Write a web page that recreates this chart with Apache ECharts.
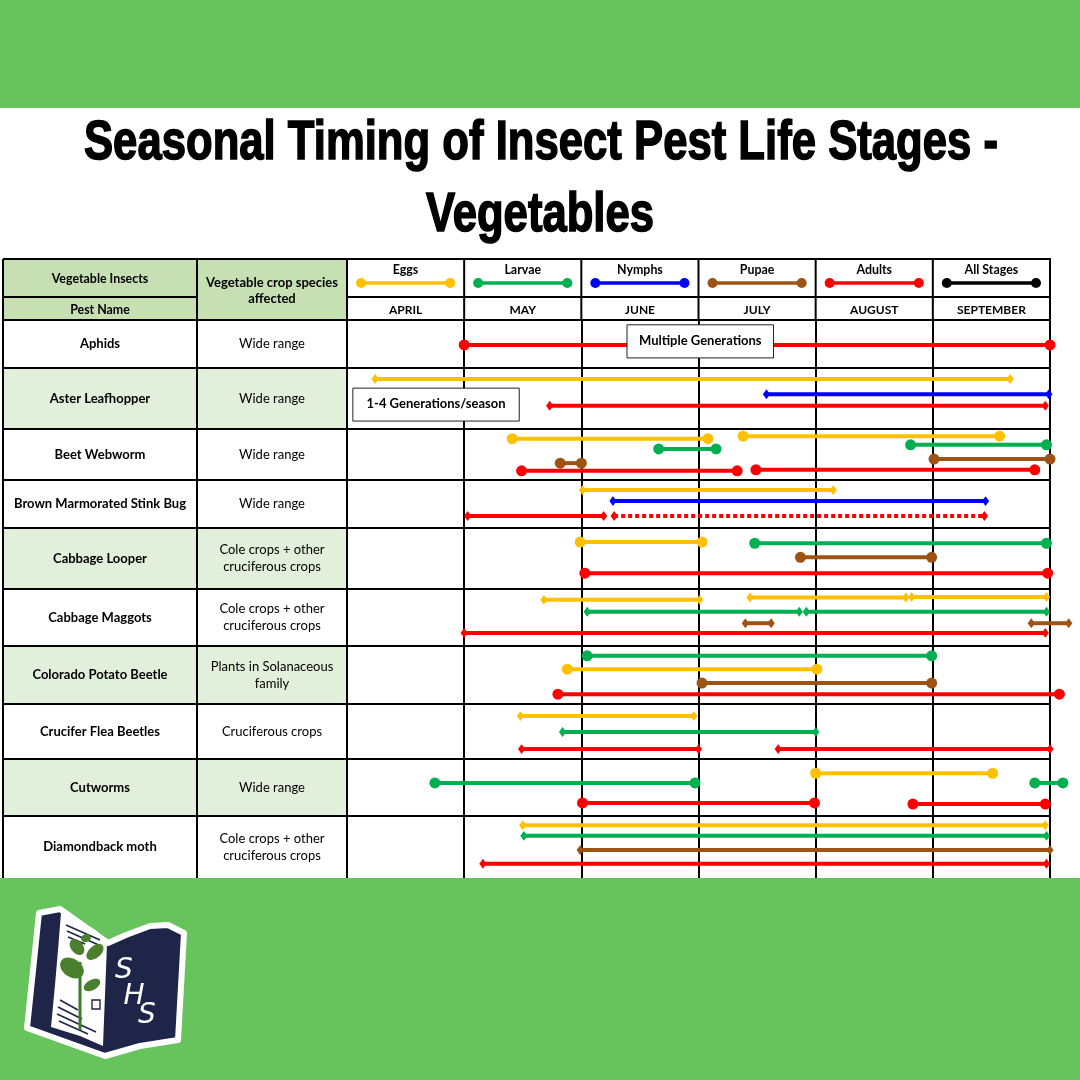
<!DOCTYPE html>
<html><head><meta charset="utf-8">
<script src="https://cdn.jsdelivr.net/npm/echarts@6/dist/echarts.min.js"></script>
<style>html,body{margin:0;padding:0;background:#fff}#c{width:1080px;height:1080px}</style>
</head><body><div id="c"></div>
<script>
// ---------------- DATA ----------------
const months = ['APRIL','MAY','JUNE','JULY','AUGUST','SEPTEMBER'];
const stages = ['Eggs','Larvae','Nymphs','Pupae','Adults','All Stages'];
const stageColors = ['#FFC000','#00B050','#0000FF','#9C5314','#FF0000','#000000'];
const pests = ['Aphids','Aster Leafhopper','Beet Webworm','Brown Marmorated Stink Bug','Cabbage Looper','Cabbage Maggots','Colorado Potato Beetle','Crucifer Flea Beetles','Cutworms','Diamondback moth'];
const hosts = ['Wide range','Wide range','Wide range','Wide range','Cole crops + other\ncruciferous crops','Cole crops + other\ncruciferous crops','Plants in Solanaceous\nfamily','Cruciferous crops','Wide range','Cole crops + other\ncruciferous crops'];
const endMarks = ['circle','diamond','circle','diamond','circle','diamond','circle','diamond','circle','diamond'];
const rowShaded = [false,true,false,false,true,false,true,false,true,false];

// segments: [stage, start (months after 1 April), end, lane (0 = top of row, 1 = bottom), style]
const aphids = [['Adults',1.00,6.00,0.52]];
const asterLeafhopper = [['Eggs',0.24,5.66,0.18],['Nymphs',3.58,5.99,0.43],['Adults',1.73,5.96,0.62]];
const beetWebworm = [['Eggs',1.41,3.08,0.19],['Eggs',3.38,5.57,0.14],['Larvae',2.66,3.15,0.39],['Larvae',4.81,5.97,0.31],['Pupae',1.82,2.00,0.67],['Pupae',5.01,6.00,0.59],['Adults',1.49,3.33,0.82],['Adults',3.49,5.87,0.80]];
const stinkBug = [['Eggs',2.01,4.15,0.21],['Nymphs',2.27,5.45,0.44],['Adults',1.03,2.19,0.75],['Adults',2.28,5.44,0.75,'dotted']];
const cabbageLooper = [['Eggs',1.99,3.03,0.23],['Larvae',3.48,5.97,0.25],['Pupae',3.87,4.99,0.48],['Adults',2.03,5.98,0.74]];
const cabbageMaggots = [['Eggs',1.68,3.01,0.19],['Eggs',3.44,4.77,0.15],['Eggs',4.82,5.97,0.14],['Larvae',2.05,3.86,0.40],['Larvae',3.92,5.97,0.40],['Pupae',3.40,3.62,0.60],['Pupae',5.84,6.16,0.60],['Adults',1.00,5.96,0.77]];
const coloradoPotatoBeetle = [['Larvae',2.05,4.99,0.17],['Eggs',1.88,4.01,0.40],['Pupae',3.03,4.99,0.64],['Adults',1.80,6.08,0.83]];
const cruciferFleaBeetles = [['Eggs',1.48,2.96,0.22],['Larvae',1.84,4.00,0.51],['Adults',1.49,3.00,0.82],['Adults',3.68,6.00,0.82]];
const cutworms = [['Eggs',4.00,5.51,0.25],['Larvae',0.75,2.97,0.42],['Larvae',5.87,6.11,0.42],['Adults',2.01,3.99,0.77],['Adults',4.83,5.96,0.79]];
const diamondbackMoth = [['Eggs',1.50,5.96,0.15],['Larvae',1.51,5.97,0.32],['Pupae',1.99,6.00,0.55],['Adults',1.16,5.97,0.77]];
const pestSegments = [aphids,asterLeafhopper,beetWebworm,stinkBug,cabbageLooper,cabbageMaggots,coloradoPotatoBeetle,cruciferFleaBeetles,cutworms,diamondbackMoth];

// notes: [pest, text, start, end, lane top, lane bottom]
const notes = [['Aphids','Multiple Generations',2.39,3.64,0.10,0.79],['Aster Leafhopper','1-4 Generations/season',0.05,1.47,0.33,0.87]];

// ---------------- LAYOUT ----------------
const rowHeights = [48,61,51,48,61,57,58,55,57,62];
const rowTops = []; let acc = 0; rowHeights.forEach(h => { rowTops.push(acc); acc += h; });
const totalH = acc;
const G = {left:347, top:320, width:703};
const monthW = G.width / months.length;
const tableLeft = 3, col1 = 197, headTop = 259, headMid = 297;
const F = 'Lato';
const GREEN = '#67C35C', HEAD = '#C6E0B4', SHADE = '#E2EFDA', NAVY = '#1F2449';

const segData = [];
pestSegments.forEach((segs, r) => segs.forEach(s => {
  segData.push([s[1], s[2], rowTops[r] + s[3]*rowHeights[r], stages.indexOf(s[0]), endMarks[r]==='diamond'?1:0, s[4]==='dotted'?1:0]);
}));
const noteData = notes.map((n, i) => {
  const r = pests.indexOf(n[0]);
  return [n[2], n[3], rowTops[r] + n[4]*rowHeights[r], rowTops[r] + n[5]*rowHeights[r], i];
});

function marker(kind, p, color, size) {
  if (kind === 1) {
    const w = size*0.8, h = size*1.1;
    return {type:'polygon', shape:{points:[[p[0],p[1]-h/2],[p[0]+w/2,p[1]],[p[0],p[1]+h/2],[p[0]-w/2,p[1]]]}, style:{fill:color}};
  }
  return {type:'circle', shape:{cx:p[0], cy:p[1], r:size/2}, style:{fill:color}};
}

// ---------------- GRAPHIC (table frame, labels, title, logo) ----------------
const gfx = [];
gfx.push({type:'rect', shape:{x:0,y:0,width:1080,height:108}, style:{fill:GREEN}, z:0});
gfx.push({type:'rect', shape:{x:0,y:878,width:1080,height:202}, style:{fill:GREEN}, z:20});
gfx.push({type:'rect', shape:{x:tableLeft,y:headTop,width:G.left-tableLeft,height:G.top-headTop}, style:{fill:HEAD}, z:0});
pests.forEach((p, r) => {
  if (rowShaded[r]) gfx.push({type:'rect', shape:{x:tableLeft,y:G.top+rowTops[r],width:G.left-tableLeft,height:rowHeights[r]}, style:{fill:SHADE}, z:0});
});
const LS = {stroke:'#000', lineWidth:2};
function hline(x1,x2,y){ gfx.push({type:'line', shape:{x1,y1:y,x2,y2:y}, style:LS, z:1}); }
function vline(x,y1,y2){ gfx.push({type:'line', shape:{x1:x,y1,x2:x,y2}, style:LS, z:1}); }
hline(tableLeft, G.left+G.width+1, headTop);
hline(tableLeft, col1, headMid); hline(G.left, G.left+G.width, headMid);
hline(tableLeft, G.left+G.width+1, G.top);
rowTops.forEach((t, r) => { if (r>0) hline(tableLeft, G.left+G.width+1, G.top+t); });
vline(tableLeft, headTop, 878); vline(col1, headTop, 878); vline(G.left, headTop, 878);
for (let i=1;i<=months.length;i++) vline(G.left+i*monthW, headTop, G.top);

const txt = (x,y,text,size,weight,extra) => gfx.push(Object.assign({type:'text', x, y, style:{text, fontFamily:F, fontSize:size, fontWeight:weight, fill:'#000', align:'center', verticalAlign:'middle', lineHeight:17}, z:2}, extra||{}));
txt((tableLeft+col1)/2, 279, 'Vegetable Insects', 12.4, 'bold');
txt((tableLeft+col1)/2, 310, 'Pest Name', 12.4, 'bold');
gfx.push({type:'text', x:(col1+G.left)/2, y:291, style:{text:'Vegetable crop species\naffected', fontFamily:F, fontSize:13, fontWeight:'bold', fill:'#000', align:'center', verticalAlign:'middle', lineHeight:16}, z:2});
stages.forEach((s, i) => {
  const x0 = G.left + i*monthW;
  txt(x0 + monthW/2, 269.5, s, 12.4, 'bold');
  const a = x0 + 14, b = x0 + monthW - 14, y = 283;
  gfx.push({type:'line', shape:{x1:a,y1:y,x2:b,y2:y}, style:{stroke:stageColors[i], lineWidth:3.5}, z:2});
  gfx.push({type:'circle', shape:{cx:a,cy:y,r:5}, style:{fill:stageColors[i]}, z:2});
  gfx.push({type:'circle', shape:{cx:b,cy:y,r:5}, style:{fill:stageColors[i]}, z:2});
});
pests.forEach((p, r) => {
  const cy = G.top + rowTops[r] + rowHeights[r]/2;
  txt((tableLeft+col1)/2, cy, p, 13, 'bold');
  txt((col1+G.left)/2, cy, hosts[r], 13, 'normal');
});

// title
function measure(text, font){ const c = document.createElement('canvas').getContext('2d'); c.font = font; return c.measureText(text).width; }
const TF = 'Liberation Sans', TS = 56;
const t1 = 'Seasonal Timing of Insect Pest Life Stages -', t2 = 'Vegetables';
const w1 = measure(t1, 'bold '+TS+'px "'+TF+'"'), w2 = measure(t2, 'bold '+TS+'px "'+TF+'"');
gfx.push({type:'text', x:541, y:144, scaleX:914/w1, style:{text:t1, fontFamily:TF, fontSize:TS, fontWeight:'bold', fill:'#000', stroke:'#000', lineWidth:1.6, align:'center', verticalAlign:'middle'}, z:3});
gfx.push({type:'text', x:540, y:216, scaleX:228/w2, style:{text:t2, fontFamily:TF, fontSize:TS, fontWeight:'bold', fill:'#000', stroke:'#000', lineWidth:1.6, align:'center', verticalAlign:'middle'}, z:3});

// logo (open book)
gfx.push({type:'polygon', shape:{points:[[39,913],[60,909],[108,943],[126,935],[150,926],[168,925],[184,933],[178,1040],[140,1046],[105,1056],[27,1028]]}, style:{fill:NAVY, stroke:'#fff', lineWidth:6, lineJoin:'round'}, z:21});
gfx.push({type:'polygon', shape:{points:[[61,913],[80,921],[97,931],[107,944],[103,1046],[80,1036],[51,1027],[55,985],[58,950]]}, style:{fill:'#fff'}, z:22});
[[66,925,100,940],[67,931,101,946],[68,937,85,944],[60,1000,78,1010],[58,1007,82,1019],[57,1014,96,1032],[59,1021,88,1034]].forEach(l => {
  gfx.push({type:'line', shape:{x1:l[0],y1:l[1],x2:l[2],y2:l[3]}, style:{stroke:NAVY, lineWidth:1.6}, z:23});
});
gfx.push({type:'line', shape:{x1:80,y1:1030,x2:80,y2:962}, style:{stroke:'#3E7A2B', lineWidth:3}, z:23});
[[72,968,13,9,-0.6],[77,947,9,6,-0.9],[95,952,10,6,0.7],[92,985,9,5,0.5],[86,938,5,4,0.3]].forEach(e => {
  gfx.push({type:'ellipse', x:e[0], y:e[1], rotation:e[4], shape:{cx:0,cy:0,rx:e[2],ry:e[3]}, style:{fill:'#4A7F2E'}, z:24});
});
gfx.push({type:'rect', shape:{x:92,y:1000,width:8,height:9}, style:{fill:'#fff', stroke:NAVY, lineWidth:1.4}, z:24});
[['S',124,971],['H',134,997],['S',147,1016]].forEach(s => {
  gfx.push({type:'text', x:s[1], y:s[2], style:{text:s[0], fontFamily:'DejaVu Sans', fontStyle:'italic', fontSize:28, fill:'#fff', align:'center', verticalAlign:'middle'}, z:24});
});

// ---------------- CHART ----------------
const chart = echarts.init(document.getElementById('c'), null, {renderer:'canvas'});
chart.setOption({
  backgroundColor:'#fff',
  animation:false,
  grid:{left:G.left, top:G.top, width:G.width, height:totalH, containLabel:false},
  xAxis:[
    {type:'value', min:0, max:6, interval:1, axisLabel:{show:false}, axisLine:{show:false}, axisTick:{show:false},
     splitLine:{show:true, lineStyle:{color:'#000', width:2}}},
    {type:'category', data:months, position:'top', boundaryGap:true, axisLine:{show:false}, axisTick:{show:false}, splitLine:{show:false},
     axisLabel:{fontFamily:F, fontWeight:'bold', fontSize:12, color:'#000', margin:4, verticalAlign:'bottom'}}
  ],
  yAxis:{type:'value', min:0, max:totalH, inverse:true, show:false},
  graphic:{elements:gfx},
  series:[
    {type:'custom', name:'segments', xAxisIndex:0, clip:false, z:5,
     encode:{x:[0,1], y:2},
     data:segData,
     renderItem(params, api){
       const s = api.value(0), e = api.value(1), y = api.value(2), si = api.value(3), mk = api.value(4), dash = api.value(5);
       const p0 = api.coord([s,y]), p1 = api.coord([e,y]);
       const color = stageColors[si];
       const children = [{type:'line', shape:{x1:p0[0],y1:p0[1],x2:p1[0],y2:p1[1]}, style:{stroke:color, lineWidth:4, lineDash:dash?[4,3]:null, lineCap:'butt'}}];
       children.push(marker(mk, p0, color, mk?9:11));
       children.push(marker(mk, p1, color, mk?9:11));
       return {type:'group', children};
     }},
    {type:'custom', name:'notes', xAxisIndex:0, clip:false, z:6,
     encode:{x:[0,1], y:[2,3]},
     data:noteData,
     renderItem(params, api){
       const a = api.coord([api.value(0), api.value(2)]), b = api.coord([api.value(1), api.value(3)]);
       const n = notes[api.value(4)];
       return {type:'group', children:[
         {type:'rect', shape:{x:a[0],y:a[1],width:b[0]-a[0],height:b[1]-a[1]}, style:{fill:'#fff', stroke:'#222', lineWidth:1}},
         {type:'text', x:(a[0]+b[0])/2, y:(a[1]+b[1])/2 - 1, style:{text:n[1], fontFamily:F, fontSize:13, fontWeight:'bold', fill:'#000', align:'center', verticalAlign:'middle'}}
       ]};
     }}
  ]
});
</script>
</body></html>
